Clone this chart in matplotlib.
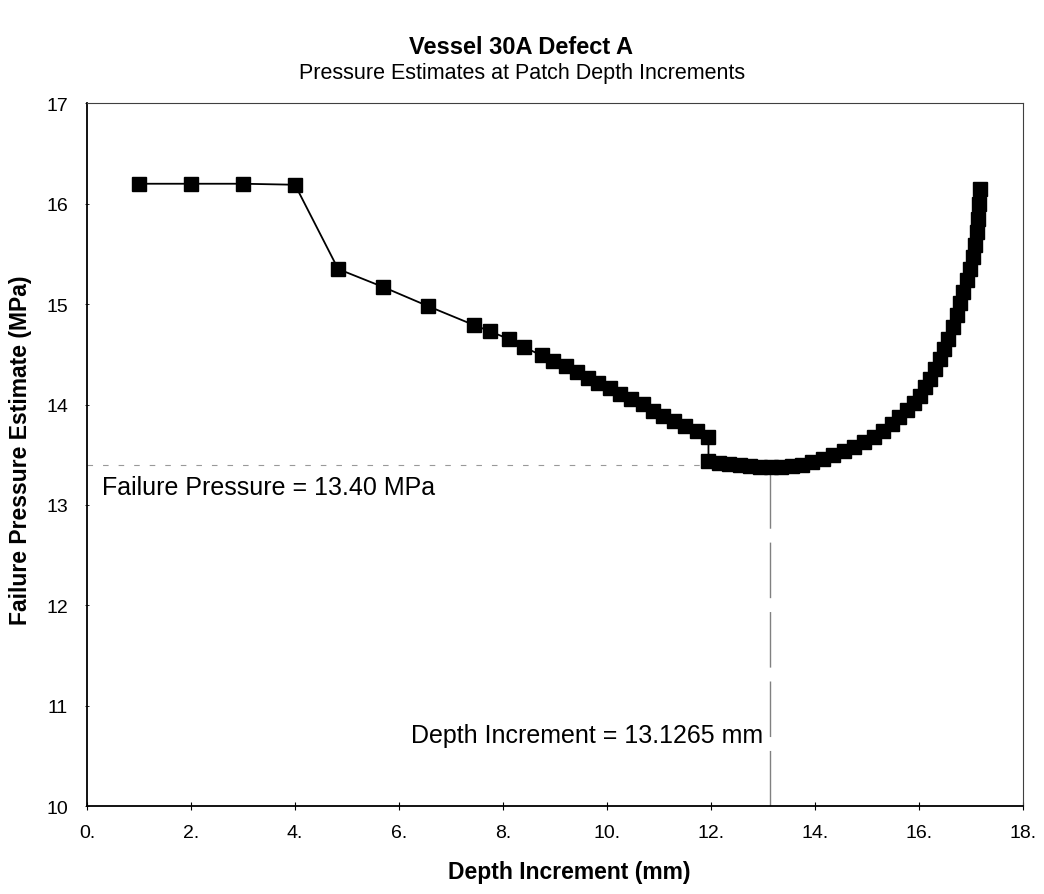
import matplotlib
matplotlib.use("Agg")
import matplotlib.pyplot as plt

plt.rcParams['font.family'] = ['Liberation Sans', 'DejaVu Sans']

# estimates along the patch depth (mm) -> failure pressure (MPa)
depth = [1.0, 2.0, 3.0, 4.0, 4.83, 5.70, 6.56, 7.45, 7.75, 8.12, 8.41, 8.74,
         8.97, 9.21, 9.42, 9.64, 9.83, 10.06, 10.25, 10.47, 10.70, 10.89,
         11.08, 11.28, 11.50, 11.72, 11.95,
         11.95, 12.15, 12.35, 12.55, 12.75, 12.95, 13.15, 13.35, 13.55, 13.75,
         13.95, 14.15, 14.35, 14.55, 14.75, 14.95, 15.13, 15.30, 15.47, 15.62,
         15.77, 15.90, 16.02, 16.12, 16.21, 16.31, 16.40, 16.48, 16.56, 16.65,
         16.73, 16.79, 16.85, 16.92, 16.98, 17.03, 17.08, 17.11, 17.13, 17.15,
         17.17]
pressure = [16.20, 16.20, 16.20, 16.19, 15.35, 15.17, 14.98, 14.79, 14.73,
            14.65, 14.57, 14.49, 14.43, 14.38, 14.32, 14.26, 14.21, 14.16,
            14.11, 14.06, 14.01, 13.94, 13.89, 13.84, 13.79, 13.74, 13.68,
            13.44, 13.42, 13.41, 13.40, 13.39, 13.38, 13.38, 13.38, 13.39,
            13.40, 13.43, 13.46, 13.50, 13.54, 13.58, 13.63, 13.68, 13.74,
            13.81, 13.88, 13.95, 14.02, 14.09, 14.17, 14.25, 14.35, 14.45,
            14.55, 14.65, 14.77, 14.89, 15.01, 15.12, 15.24, 15.35, 15.47,
            15.59, 15.72, 15.85, 16.00, 16.15]

fail_pressure = 13.40
fail_depth = 13.1265

xticks = [0, 2, 4, 6, 8, 10, 12, 14, 16, 18]
xtick_labels = ['0.', '2.', '4.', '6.', '8.', '10.', '12.', '14.', '16.', '18.']
yticks = [10, 11, 12, 13, 14, 15, 16, 17]

fig = plt.figure(figsize=(10.44, 8.95), dpi=100)
ax = fig.add_axes([0.0833, 0.0983, 0.8967, 0.7850])

# guide lines for the minimum
ax.plot([0, fail_depth], [fail_pressure, fail_pressure], color='0.6',
        lw=0.8, dashes=(5, 9), zorder=1)
ax.plot([fail_depth, fail_depth], [10, fail_pressure], color='0.5',
        lw=1.0, dashes=(40, 10), zorder=1)

ax.plot(depth, pressure, color='black', lw=1.3, marker='s', markersize=10.5,
        markerfacecolor='black', markeredgecolor='black', zorder=3)

ax.text(0.28, 13.18, 'Failure Pressure = 13.40 MPa', fontsize=18,
        va='center', ha='left')
ax.text(13.0, 10.71, 'Depth Increment = 13.1265 mm', fontsize=18,
        va='center', ha='right')

ax.set_xlim(0, 18)
ax.set_ylim(10, 17)
ax.set_xticks(xticks)
ax.set_xticklabels(xtick_labels)
ax.set_yticks(yticks)
ax.tick_params(axis='x', direction='inout', length=6, width=0.8,
               labelsize=14, pad=10)
ax.tick_params(axis='y', direction='inout', length=3, width=0.6,
               labelsize=14, pad=12)
for side in ['left', 'bottom']:
    ax.spines[side].set_linewidth(1.3)
for side in ['top', 'right']:
    ax.spines[side].set_linewidth(0.8)
    ax.spines[side].set_color('0.25')

fig.text(0.499, 0.947, 'Vessel 30A Defect A', fontsize=17,
         fontweight='bold', ha='center', va='center')
fig.text(0.5, 0.918, 'Pressure Estimates at Patch Depth Increments',
         fontsize=15.5, ha='center', va='center')
fig.text(0.545, 0.025, 'Depth Increment (mm)', fontsize=16.5,
         fontweight='bold', ha='center', va='center')
fig.text(0.02, 0.497, 'Failure Pressure Estimate (MPa)', fontsize=16.5,
         fontweight='bold', ha='center', va='center', rotation=90)

fig.savefig('out.png', dpi=100)
